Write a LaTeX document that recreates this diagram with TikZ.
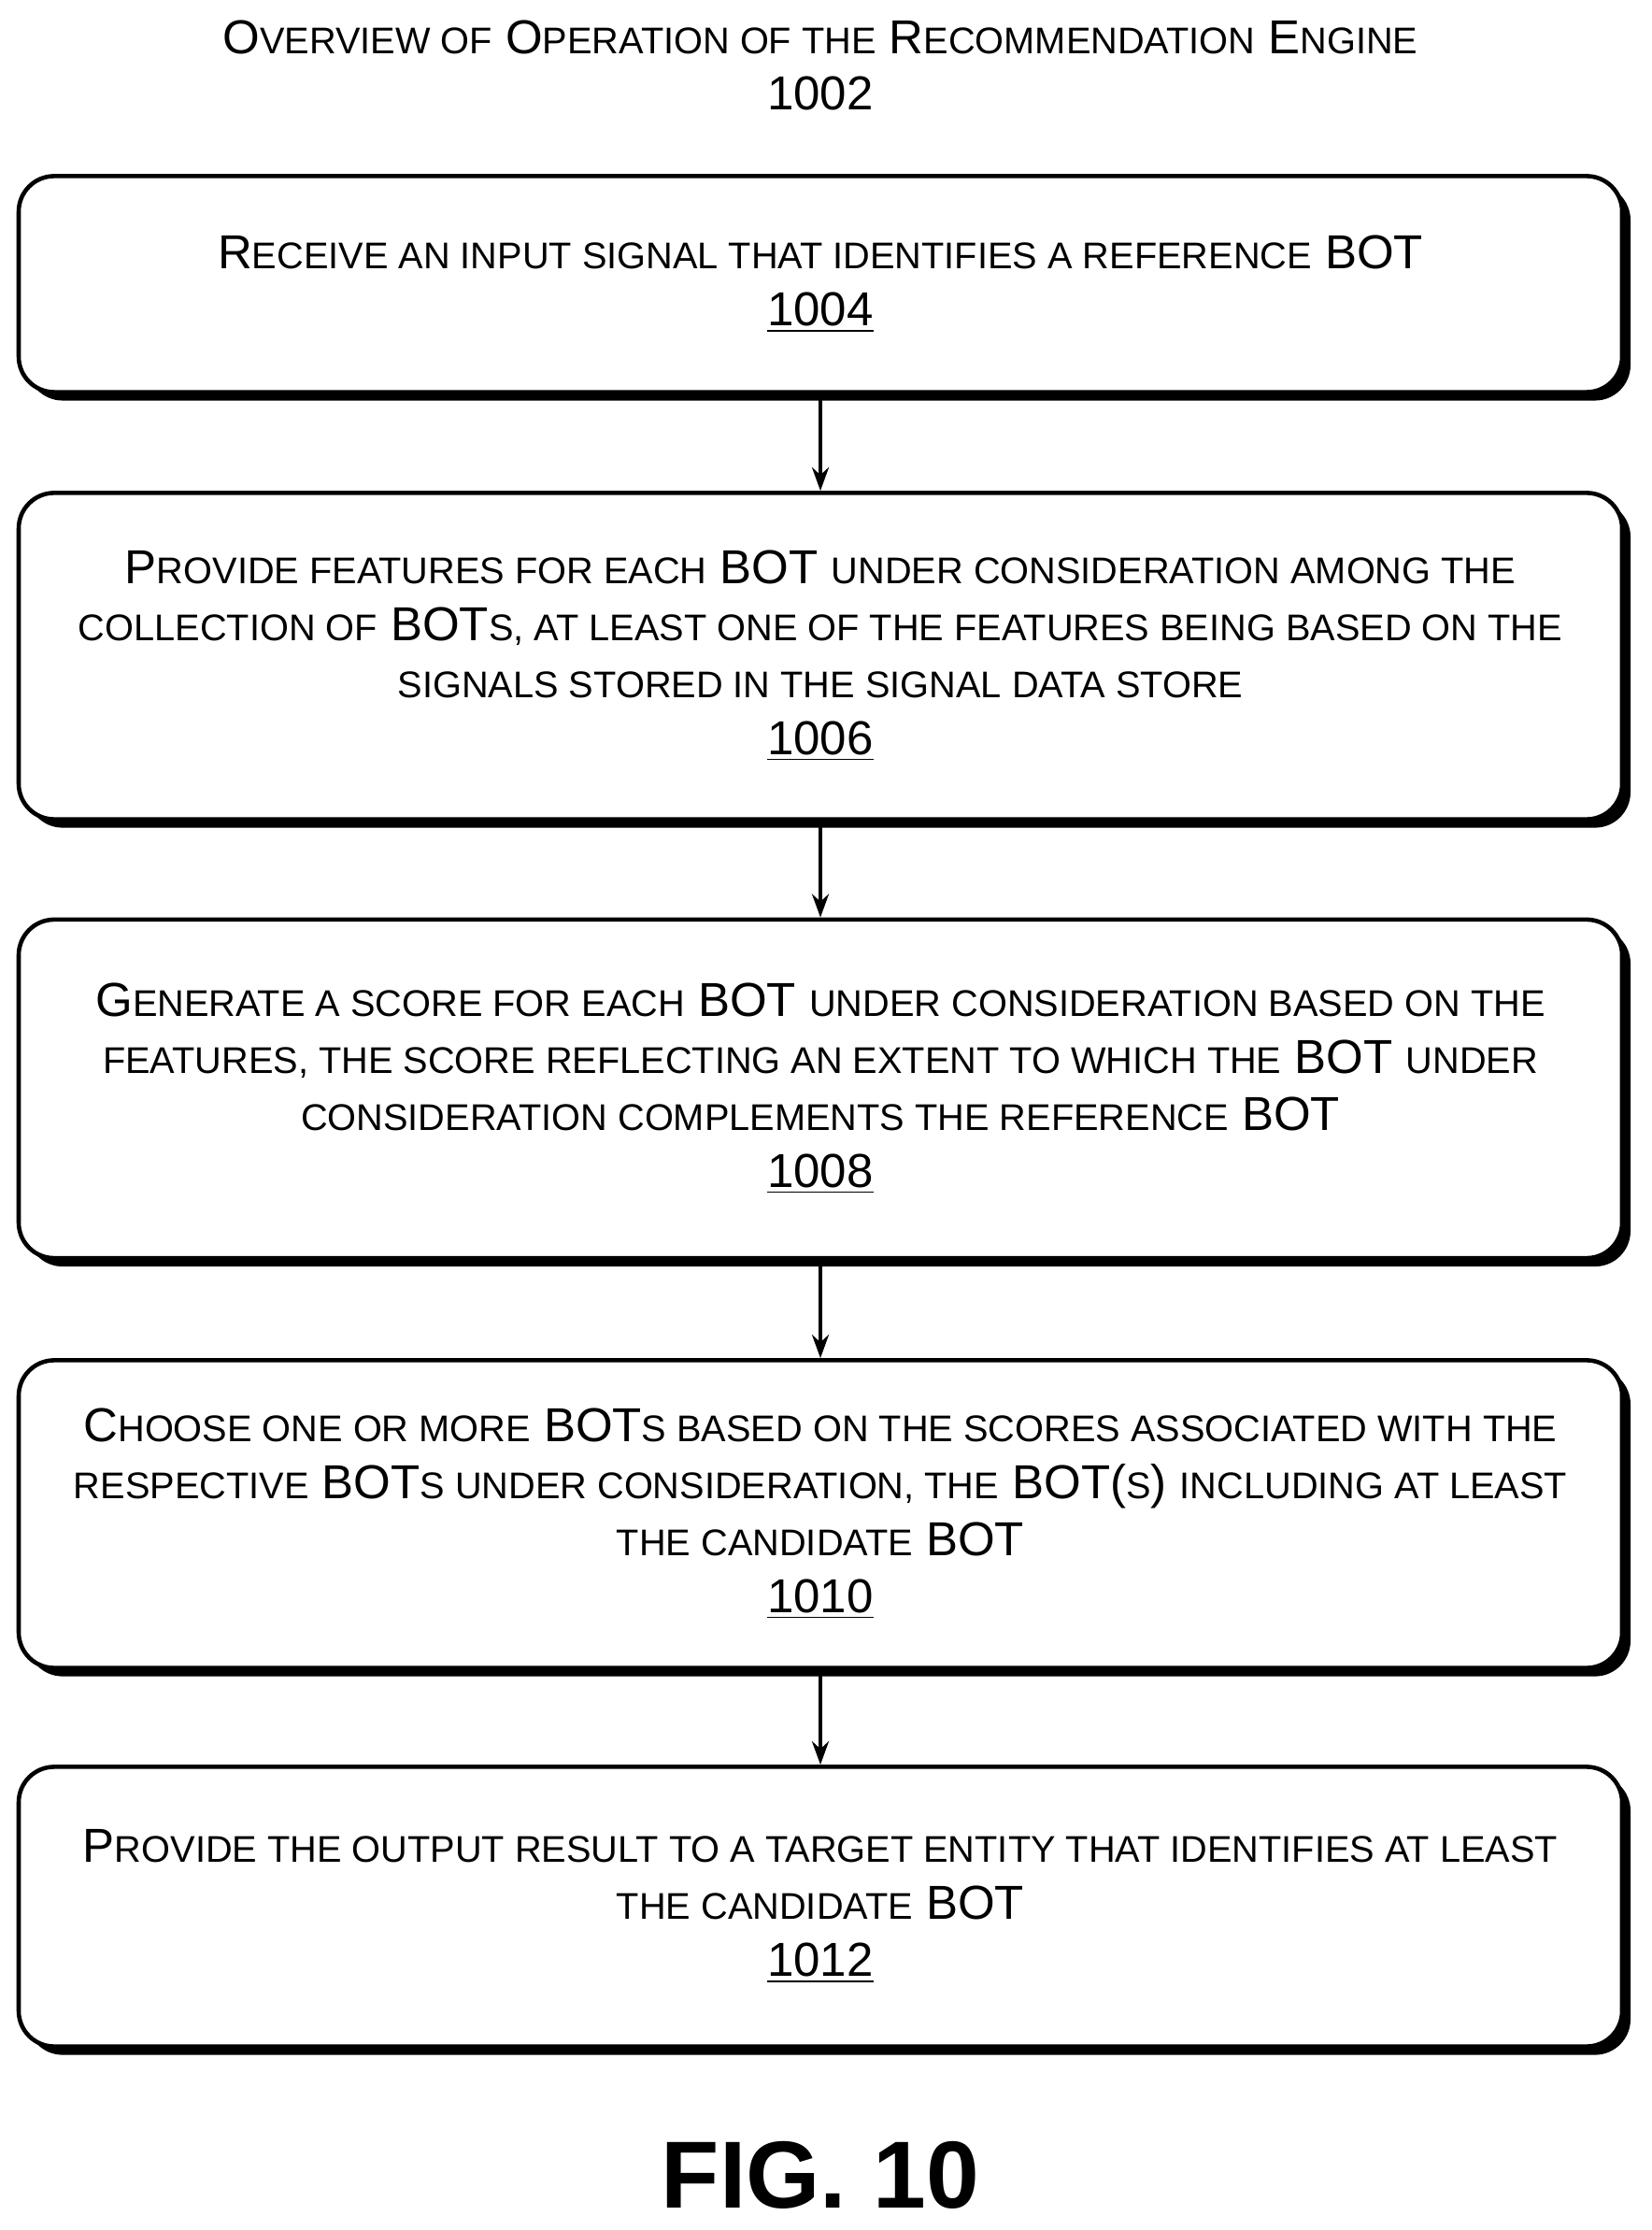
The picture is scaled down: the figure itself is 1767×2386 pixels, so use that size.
\documentclass[tikz,border=0pt]{standalone}
\usepackage{fontspec}
\setmainfont{Liberation Sans}
\usetikzlibrary{shadows,arrows.meta}
\newcommand\sm[1]{{\fontsize{11.3pt}{17.3pt}\selectfont #1}}
\begin{document}
\begin{tikzpicture}[x=0.01cm,y=-0.01cm,
  stepbox/.style={draw=black,line width=1.3pt,rounded corners=0.38cm,fill=white,
    minimum width=17.15cm,align=center,inner sep=0pt,
    drop shadow={shadow xshift=0.09cm,shadow yshift=-0.09cm,fill=black,opacity=1},
    font=\fontsize{14.5pt}{17.3pt}\selectfont},
  arr/.style={-{Stealth[length=0.25cm,width=0.18cm]},line width=1.1pt}]
\useasboundingbox (0,0) rectangle (1767,2386);
\node[font=\fontsize{14.5pt}{17.3pt}\selectfont,align=center] (title) at (878,70)
  {O\sm{VERVIEW OF} O\sm{PERATION OF THE} R\sm{ECOMMENDATION} E\sm{NGINE}\\1002};
\node[stepbox,minimum height=2.31cm] (b1) at (878,304)
  {R\sm{ECEIVE AN INPUT SIGNAL THAT IDENTIFIES A REFERENCE} BOT\\\underline{1004}};
\node[stepbox,minimum height=3.49cm] (b2) at (878,702)
  {P\sm{ROVIDE FEATURES FOR EACH} BOT \sm{UNDER CONSIDERATION AMONG THE}\\
   \sm{COLLECTION OF} BOT\sm{S, AT LEAST ONE OF THE FEATURES BEING BASED ON THE}\\
   \sm{SIGNALS STORED IN THE SIGNAL DATA STORE}\\\underline{1006}};
\node[stepbox,minimum height=3.62cm] (b3) at (878,1165)
  {G\sm{ENERATE A SCORE FOR EACH} BOT \sm{UNDER CONSIDERATION BASED ON THE}\\
   \sm{FEATURES, THE SCORE REFLECTING AN EXTENT TO WHICH THE} BOT \sm{UNDER}\\
   \sm{CONSIDERATION COMPLEMENTS THE REFERENCE} BOT\\\underline{1008}};
\node[stepbox,minimum height=3.29cm] (b4) at (878,1620)
  {C\sm{HOOSE ONE OR MORE} BOT\sm{S BASED ON THE SCORES ASSOCIATED WITH THE}\\
   \sm{RESPECTIVE} BOT\sm{S UNDER CONSIDERATION, THE} BOT(\sm{S}) \sm{INCLUDING AT LEAST}\\
   \sm{THE CANDIDATE} BOT\\\underline{1010}};
\node[stepbox,minimum height=2.99cm] (b5) at (878,2040)
  {P\sm{ROVIDE THE OUTPUT RESULT TO A TARGET ENTITY THAT IDENTIFIES AT LEAST}\\
   \sm{THE CANDIDATE} BOT\\\underline{1012}};
\draw[arr] (b1.south) -- (b2.north);
\draw[arr] (b2.south) -- (b3.north);
\draw[arr] (b3.south) -- (b4.north);
\draw[arr] (b4.south) -- (b5.north);
\node[font=\bfseries\fontsize{29pt}{32pt}\selectfont] (fig) at (878,2327) {FIG. 10};
\end{tikzpicture}
\end{document}
